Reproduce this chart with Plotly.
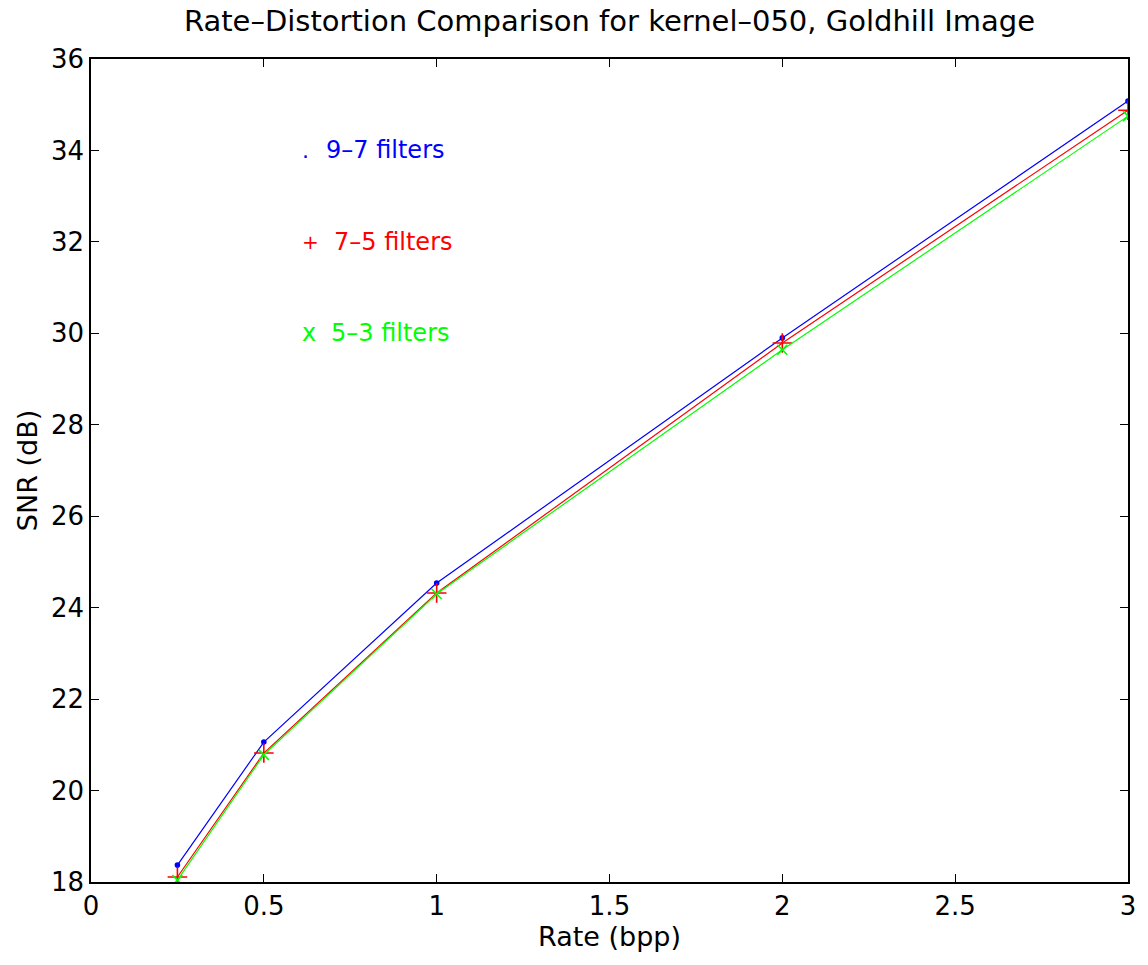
import plotly.graph_objects as go

rate = [0.25, 0.5, 1, 2, 3]
snr_97 = [18.37, 21.06, 24.54, 29.90, 35.08]
snr_75 = [18.11, 20.82, 24.32, 29.79, 34.88]
snr_53 = [18.04, 20.78, 24.30, 29.64, 34.75]

x_ticks = [0, 0.5, 1, 1.5, 2, 2.5, 3]
x_tick_text = ["0", "0.5", "1", "1.5", "2", "2.5", "3"]
y_ticks = [18, 20, 22, 24, 26, 28, 30, 32, 34, 36]

labels = ["9\u20137 filters", "7\u20135 filters", "5\u20133 filters"]
label_marks = [".", "+", "x"]
label_y = [34, 32, 30]
colors = ["#0000ff", "#ff0000", "#00ff00"]

FONT = "DejaVu Sans, Liberation Sans, Arial, sans-serif"

fig = go.Figure()
series = [snr_97, snr_75, snr_53]
symbols = ["circle", "cross-thin", "x-thin"]
sizes = [4, 14, 10]
for s, c, sym, sz in zip(series, colors, symbols, sizes):
    fig.add_trace(go.Scatter(
        x=rate, y=s, mode="lines+markers",
        line=dict(color=c, width=1.2),
        marker=dict(symbol=sym, size=sz, color=c, line=dict(color=c, width=1.6)),
        showlegend=False,
    ))

# layout placement of the in-plot labels (not data)
MARK_X = 0.605
MARK_SIZES = [22, 20, 24]
TEXT_XS = [0.674, 0.697, 0.688]
for lab, mk, ly, c, tx, ms in zip(labels, label_marks, label_y, colors, TEXT_XS, MARK_SIZES):
    fig.add_annotation(x=MARK_X, y=ly, xref="x", yref="y", text=mk,
                       showarrow=False, xanchor="left", yanchor="middle",
                       font=dict(family=FONT, size=ms, color=c))
    fig.add_annotation(x=tx, y=ly, xref="x", yref="y", text=lab,
                       showarrow=False, xanchor="left", yanchor="middle",
                       font=dict(family=FONT, size=24, color=c))

axis_common = dict(
    showgrid=False, zeroline=False, showline=True, linecolor="black", linewidth=1.5,
    mirror="ticks", ticks="inside", ticklen=8, tickcolor="black", tickwidth=1.2,
    tickfont=dict(family=FONT, size=26, color="black"),
)

fig.update_layout(
    width=1140, height=957,
    paper_bgcolor="white", plot_bgcolor="white",
    margin=dict(l=83, r=15, t=51, b=83),
    title=dict(text="Rate\u2013Distortion Comparison for kernel\u2013050, Goldhill Image",
               xref="paper", x=0.5, xanchor="center",
               yref="container", y=1.0, yanchor="top", pad=dict(t=3),
               font=dict(family=FONT, size=29, color="black")),
    xaxis=dict(range=[0, 3], tickvals=x_ticks, ticktext=x_tick_text,
               title=dict(text="Rate (bpp)", standoff=2, font=dict(family=FONT, size=27, color="black")),
               **axis_common),
    yaxis=dict(range=[18, 36], tickvals=y_ticks,
               title=dict(text="SNR (dB)", standoff=6, font=dict(family=FONT, size=27, color="black")),
               **axis_common),
)

fig.write_html("out.html")
